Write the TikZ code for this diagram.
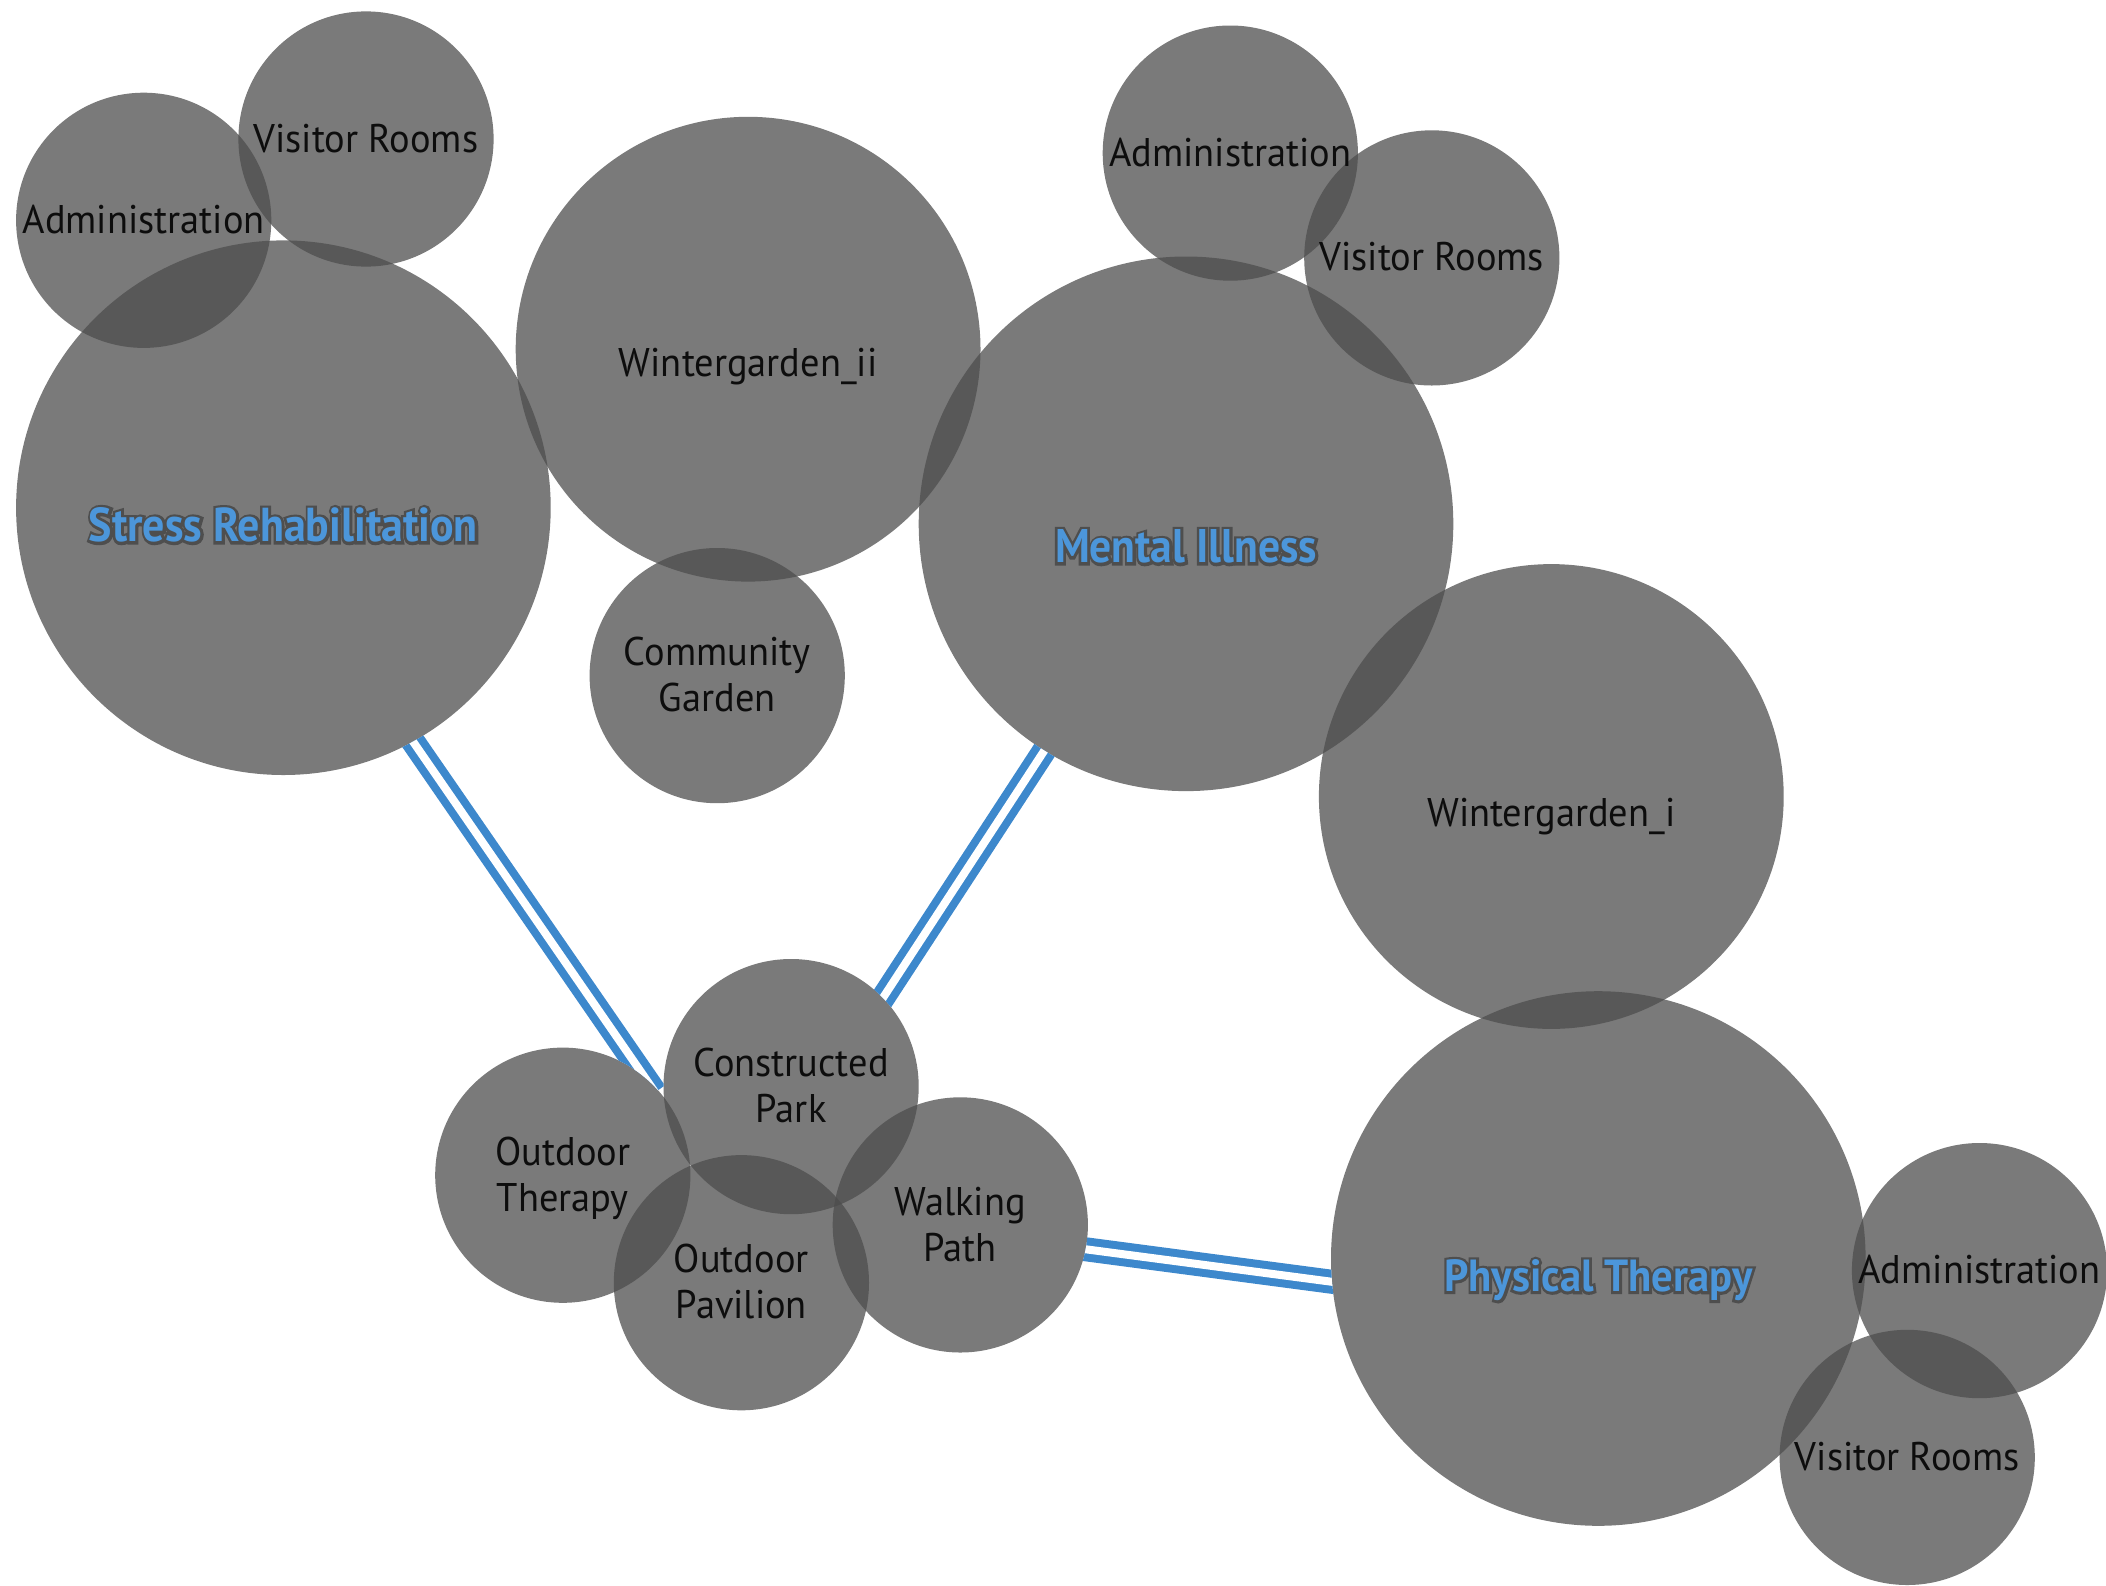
\documentclass[tikz,border=0pt]{standalone}
\usepackage{graphicx}
\usepackage{fontspec}
\setsansfont{PT Sans}
\newfontfamily\headfont{PT Sans}
\newfontfamily\headhalo{PT Sans}[FakeBold=12]
\definecolor{bubblefill}{HTML}{4C4C4C}
\definecolor{linkblue}{HTML}{3D88CC}
\definecolor{lblblue}{HTML}{4C96DA}
\definecolor{halo}{HTML}{4E4E4E}
\definecolor{ink}{HTML}{0D0D0D}

% one line of bubble text, slightly narrowed
\newcommand\word[1]{\scalebox{0.96}[1]{#1}}
% two stacked lines of bubble text
\newcommand\stack[2]{\scalebox{0.96}[1]{\begin{tabular}{@{}c@{}}#1\\#2\end{tabular}}}

% bold blue heading over a thickened dark copy of itself
\newcommand\heading[3]{%
  \makebox[0pt][l]{\textcolor{halo}{\resizebox{#1}{#2}{\headhalo\bfseries #3}}}%
  \textcolor{lblblue}{\resizebox{#1}{#2}{\headfont\bfseries #3}}}

\tikzset{
  bubble/.style={circle, fill=bubblefill, fill opacity=0.744, inner sep=0pt, outer sep=0pt},
  smallbub/.style={bubble, minimum size=255.2pt},
  midbub/.style={bubble, minimum size=464.8pt},
  bigbub/.style={bubble, minimum size=534.6pt},
  txt/.style={text=ink, font=\sffamily\fontsize{40}{46}\selectfont, inner sep=0pt},
  twoline/.style={txt, yshift=-4pt},
  oneline/.style={txt, anchor=base},
  headtxt/.style={font=\fontsize{48}{50}\selectfont, inner sep=0pt, anchor=base},
  link/.style={draw=linkblue, line width=8pt, double=white, double distance=8pt,
               shorten <=-18pt, shorten >=-18pt}
}

\begin{document}
\begin{tikzpicture}[x=1pt, y=-1pt]
\useasboundingbox (0,0) rectangle (2106,1585);

% bubbles
\node[bigbub]   (sr)   at (283.4, 507.7) {};
\node[smallbub] (adm1) at (143.7, 220.3) {};
\node[smallbub] (vr1)  at (366.0, 139.0) {};
\node[midbub]   (wg2)  at (748.1, 349.2) {};
\node[smallbub] (cg)   at (717.2, 675.6) {};
\node[bigbub]   (mi)   at (1186.0, 523.8) {};
\node[smallbub] (adm2) at (1230.3, 153.1) {};
\node[smallbub] (vr2)  at (1431.8, 257.9) {};
\node[midbub]   (wg1)  at (1551.3, 796.5) {};
\node[bigbub]   (pt)   at (1598.3, 1258.5) {};
\node[smallbub] (adm3) at (1979.5, 1270.6) {};
\node[smallbub] (vr3)  at (1907.2, 1457.4) {};
\node[smallbub] (cp)   at (791.1, 1086.6) {};
\node[smallbub] (ot)   at (562.8, 1175.2) {};
\node[smallbub] (op)   at (741.4, 1282.7) {};
\node[smallbub] (wp)   at (960.3, 1224.9) {};

% connectors, cut off where they meet the bubbles
\begin{scope}[even odd rule]
  \clip (0,0) rectangle (2106,1585)
    (sr) circle[radius=267.3] (ot) circle[radius=127.6] (cp) circle[radius=127.6];
  \draw[link] (sr.-61.5) -- (ot.50.6);
\end{scope}
\begin{scope}[even odd rule]
  \clip (0,0) rectangle (2106,1585)
    (mi) circle[radius=267.3] (cp) circle[radius=127.6];
  \draw[link] (mi.-122.5) -- (cp.44.5);
\end{scope}
\begin{scope}[even odd rule]
  \clip (0,0) rectangle (2106,1585)
    (wp) circle[radius=127.6] (pt) circle[radius=267.3];
  \draw[link] (wp.-11.4) -- (pt.-175.8);
\end{scope}

% bubble texts
\node[oneline, yshift=-13pt] (tadm1) at (adm1) {\word{Administration}};
\node[oneline, yshift=-13pt] (tvr1)  at (vr1)  {\word{Visitor Rooms}};
\node[oneline, yshift=-27.5pt] (twg2) at (wg2) {\word{Wintergarden\_ii}};
\node[twoline] (tcg) at (cg) {\stack{Community}{Garden}};
\node[oneline, yshift=-13pt] (tadm2) at (adm2) {\word{Administration}};
\node[oneline, yshift=-13pt] (tvr2)  at (vr2)  {\word{Visitor Rooms}};
\node[oneline, yshift=-30pt] (twg1) at (wg1) {\word{Wintergarden\_i}};
\node[oneline, yshift=-13pt] (tadm3) at (adm3) {\word{Administration}};
\node[oneline, yshift=-13pt] (tvr3)  at (vr3)  {\word{Visitor Rooms}};
\node[twoline] (tcp) at (cp) {\stack{Constructed}{Park}};
\node[twoline] (tot) at (ot) {\stack{Outdoor}{Therapy}};
\node[twoline] (top) at (op) {\stack{Outdoor}{Pavilion}};
\node[twoline] (twp) at (wp) {\stack{Walking}{Path}};

% headings of the three main bubbles
\node[headtxt, yshift=-34pt] (hsr) at (sr) {\heading{389pt}{34pt}{Stress Rehabilitation}};
\node[headtxt, yshift=-39pt] (hmi) at (mi) {\heading{262pt}{33pt}{Mental Illness}};
\node[headtxt, yshift=-33pt] (hpt) at (pt) {\heading{308pt}{32pt}{Physical Therapy}};
\end{tikzpicture}
\end{document}
